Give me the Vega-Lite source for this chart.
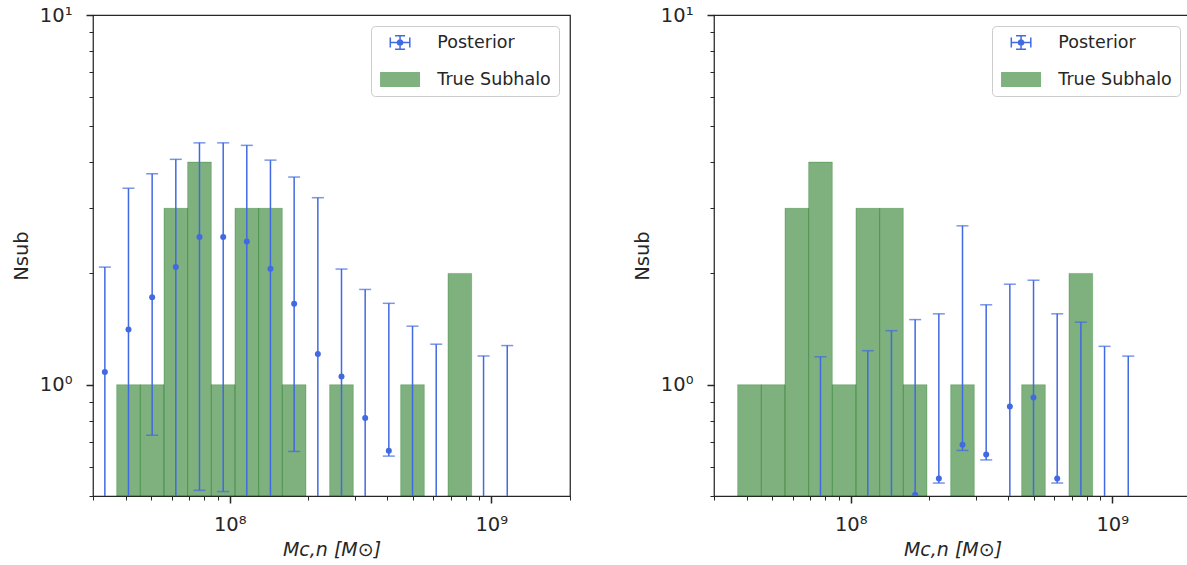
{
  "$schema": "https://vega.github.io/schema/vega-lite/v6.json",
  "padding": {"left": 10, "top": 4, "right": 0, "bottom": 0},
  "spacing": 59,
  "config": {
    "font": "DejaVu Sans",
    "view": {"stroke": "#262626", "strokeWidth": 1.25},
    "axis": {"grid": false, "domain": false, "labelColor": "#262626", "tickColor": "#262626", "titleColor": "#262626", "labelFontSize": 19.5, "titleFontSize": 19, "titleFontWeight": "normal", "labelOverlap": false, "labelFlush": false, "labelBound": false}
  },
  "resolve": {"scale": {"color": "independent", "shape": "independent"}, "legend": {"color": "independent", "shape": "independent"}},
  "datasets": {
    "truth": [
      {"lo": 3.695e7, "hi": 4.550e7, "count": 1},
      {"lo": 4.550e7, "hi": 5.605e7, "count": 1},
      {"lo": 5.605e7, "hi": 6.902e7, "count": 3},
      {"lo": 6.902e7, "hi": 8.502e7, "count": 4},
      {"lo": 8.502e7, "hi": 1.0471e8, "count": 1},
      {"lo": 1.0471e8, "hi": 1.2897e8, "count": 3},
      {"lo": 1.2897e8, "hi": 1.5885e8, "count": 3},
      {"lo": 1.5885e8, "hi": 1.9566e8, "count": 1},
      {"lo": 2.4099e8, "hi": 2.9682e8, "count": 1},
      {"lo": 4.5030e8, "hi": 5.5463e8, "count": 1},
      {"lo": 6.8313e8, "hi": 8.4140e8, "count": 2}
    ],
    "postL": [
      {"m": 3.33e7, "val": 1.083, "low": 0.3, "high": 2.08},
      {"m": 4.10e7, "val": 1.41, "low": 0.3, "high": 3.40},
      {"m": 5.05e7, "val": 1.725, "low": 0.73, "high": 3.72},
      {"m": 6.22e7, "val": 2.08, "low": 0.3, "high": 4.07},
      {"m": 7.66e7, "val": 2.51, "low": 0.518, "high": 4.51},
      {"m": 9.44e7, "val": 2.51, "low": 0.514, "high": 4.51},
      {"m": 1.162e8, "val": 2.44, "low": 0.3, "high": 4.44},
      {"m": 1.431e8, "val": 2.06, "low": 0.3, "high": 4.05},
      {"m": 1.763e8, "val": 1.655, "low": 0.66, "high": 3.645},
      {"m": 2.172e8, "val": 1.21, "low": 0.3, "high": 3.205},
      {"m": 2.675e8, "val": 1.053, "low": 0.3, "high": 2.055},
      {"m": 3.295e8, "val": 0.813, "low": 0.3, "high": 1.81},
      {"m": 4.058e8, "val": 0.663, "low": 0.641, "high": 1.66},
      {"m": 4.999e8, "val": null, "low": 0.3, "high": 1.44},
      {"m": 6.158e8, "val": null, "low": 0.3, "high": 1.287},
      {"m": 9.343e8, "val": null, "low": 0.3, "high": 1.196},
      {"m": 1.151e9, "val": null, "low": 0.3, "high": 1.276}
    ],
    "postR": [
      {"m": 7.66e7, "val": null, "low": 0.3, "high": 1.19},
      {"m": 1.162e8, "val": null, "low": 0.3, "high": 1.236},
      {"m": 1.431e8, "val": null, "low": 0.3, "high": 1.40},
      {"m": 1.763e8, "val": 0.504, "low": 0.3, "high": 1.50},
      {"m": 2.172e8, "val": 0.558, "low": 0.542, "high": 1.555},
      {"m": 2.675e8, "val": 0.688, "low": 0.664, "high": 2.69},
      {"m": 3.295e8, "val": 0.647, "low": 0.626, "high": 1.645},
      {"m": 4.058e8, "val": 0.873, "low": 0.3, "high": 1.87},
      {"m": 4.999e8, "val": 0.923, "low": 0.3, "high": 1.917},
      {"m": 6.158e8, "val": 0.558, "low": 0.542, "high": 1.555},
      {"m": 7.585e8, "val": null, "low": 0.3, "high": 1.476},
      {"m": 9.343e8, "val": null, "low": 0.3, "high": 1.27},
      {"m": 1.151e9, "val": null, "low": 0.3, "high": 1.195}
    ],
    "legendRows": [{"series": "Posterior"}, {"series": "True Subhalo"}]
  },
  "hconcat": [
    {
      "width": 477,
      "height": 481,
      "layer": [
        {
          "data": {"name": "truth"},
          "mark": {"type": "bar", "fill": "#006400", "fillOpacity": 0.5, "stroke": "#006400", "strokeOpacity": 0.25, "strokeWidth": 1},
          "encoding": {
            "x": {"field": "lo", "type": "quantitative", "title": "Mc,n [M⊙]", "scale": {"type": "log", "domain": [3e7, 2e9], "nice": false},
              "axis": {"title": "Mc,n [M⊙]", "titleFontStyle": "italic", "titleFontSize": 19, "labelFontSize": 19.5, "values": [3e7, 4e7, 5e7, 6e7, 7e7, 8e7, 9e7, 1e8, 2e8, 3e8, 4e8, 5e8, 6e8, 7e8, 8e8, 9e8, 1e9, 2e9],
                "labelExpr": "datum.value == 1e8 ? '10⁸' : datum.value == 1e9 ? '10⁹' : ''",
                "tickSize": {"condition": {"test": "datum.value == 1e8 || datum.value == 1e9", "value": 7}, "value": 4},
                "tickWidth": {"condition": {"test": "datum.value == 1e8 || datum.value == 1e9", "value": 1.5}, "value": 1},
                "labelPadding": 12, "titlePadding": 7}},
            "x2": {"field": "hi"},
            "y": {"field": "count", "type": "quantitative", "title": "Nsub", "scale": {"type": "log", "domain": [0.5, 10], "nice": false},
              "axis": {"title": "Nsub", "titleFontSize": 19.5, "labelFontSize": 19.5, "values": [0.5, 0.6, 0.7, 0.8, 0.9, 1, 2, 3, 4, 5, 6, 7, 8, 9, 10],
                "labelExpr": "datum.value == 1 ? '10⁰' : datum.value == 10 ? '10¹' : ''",
                "tickSize": {"condition": {"test": "datum.value == 1 || datum.value == 10", "value": 7}, "value": 4},
                "tickWidth": {"condition": {"test": "datum.value == 1 || datum.value == 10", "value": 1.5}, "value": 1},
                "labelPadding": 14, "titlePadding": 8}},
            "y2": {"datum": 0.5}
          }
        },
        {
          "data": {"name": "postL"},
          "mark": {"type": "errorbar", "clip": true, "ticks": {"size": 12, "thickness": 1.5, "color": "#4169e1"}, "rule": {"strokeWidth": 1.5, "color": "#4169e1"}},
          "encoding": {
            "x": {"field": "m", "type": "quantitative", "title": "Mc,n [M⊙]"},
            "y": {"field": "low", "type": "quantitative", "title": "Nsub"},
            "y2": {"field": "high"}
          }
        },
        {
          "data": {"name": "postL"},
          "mark": {"type": "point", "filled": true, "size": 36, "color": "#4169e1", "opacity": 1, "clip": true},
          "encoding": {
            "x": {"field": "m", "type": "quantitative", "title": "Mc,n [M⊙]"},
            "y": {"field": "val", "type": "quantitative", "title": "Nsub"}
          }
        },
        {
          "data": {"name": "legendRows"},
          "mark": {"type": "point", "filled": true, "opacity": 0},
          "encoding": {
            "color": {"field": "series", "type": "nominal", "scale": {"domain": ["Posterior", "True Subhalo"], "range": ["#4169e1", "#7fb27f"]},
              "legend": {"title": null, "orient": "top-right", "offset": 11, "padding": 7.8, "fillColor": "white", "strokeColor": "#cccccc", "cornerRadius": 4, "symbolSize": 225, "symbolOpacity": 1, "symbolStrokeWidth": 0, "labelFontSize": 17.5, "labelColor": "#262626", "labelOffset": 41, "rowPadding": 18, "labelFont": "DejaVu Sans"}},
            "shape": {"field": "series", "type": "nominal", "scale": {"domain": ["Posterior", "True Subhalo"], "range": ["M1.567,-1H1.767V1H1.567Z M0.267,-0.1H3.067V0.1H0.267Z M1,-1H2.333V-0.8H1Z M1,0.8H2.333V1H1Z M0.267,-0.667H0.467V0.667H0.267Z M2.867,-0.667H3.067V0.667H2.867Z M1.217,0A0.45,0.45 0 1,1 2.117,0A0.45,0.45 0 1,1 1.217,0Z", "M-1,-1H4.333V1H-1Z"]},
              "legend": {"title": null, "orient": "top-right", "offset": 11, "padding": 7.8, "fillColor": "white", "strokeColor": "#cccccc", "cornerRadius": 4, "symbolSize": 225, "symbolOpacity": 1, "symbolStrokeWidth": 0, "labelFontSize": 17.5, "labelColor": "#262626", "labelOffset": 41, "rowPadding": 18, "labelFont": "DejaVu Sans"}}
          }
        }
      ]
    },
    {
      "width": 477,
      "height": 481,
      "layer": [
        {
          "data": {"name": "truth"},
          "mark": {"type": "bar", "fill": "#006400", "fillOpacity": 0.5, "stroke": "#006400", "strokeOpacity": 0.25, "strokeWidth": 1},
          "encoding": {
            "x": {"field": "lo", "type": "quantitative", "title": "Mc,n [M⊙]", "scale": {"type": "log", "domain": [3e7, 2e9], "nice": false},
              "axis": {"title": "Mc,n [M⊙]", "titleFontStyle": "italic", "titleFontSize": 19, "labelFontSize": 19.5, "values": [3e7, 4e7, 5e7, 6e7, 7e7, 8e7, 9e7, 1e8, 2e8, 3e8, 4e8, 5e8, 6e8, 7e8, 8e8, 9e8, 1e9, 2e9],
                "labelExpr": "datum.value == 1e8 ? '10⁸' : datum.value == 1e9 ? '10⁹' : ''",
                "tickSize": {"condition": {"test": "datum.value == 1e8 || datum.value == 1e9", "value": 7}, "value": 4},
                "tickWidth": {"condition": {"test": "datum.value == 1e8 || datum.value == 1e9", "value": 1.5}, "value": 1},
                "labelPadding": 12, "titlePadding": 7}},
            "x2": {"field": "hi"},
            "y": {"field": "count", "type": "quantitative", "title": "Nsub", "scale": {"type": "log", "domain": [0.5, 10], "nice": false},
              "axis": {"title": "Nsub", "titleFontSize": 19.5, "labelFontSize": 19.5, "values": [0.5, 0.6, 0.7, 0.8, 0.9, 1, 2, 3, 4, 5, 6, 7, 8, 9, 10],
                "labelExpr": "datum.value == 1 ? '10⁰' : datum.value == 10 ? '10¹' : ''",
                "tickSize": {"condition": {"test": "datum.value == 1 || datum.value == 10", "value": 7}, "value": 4},
                "tickWidth": {"condition": {"test": "datum.value == 1 || datum.value == 10", "value": 1.5}, "value": 1},
                "labelPadding": 14, "titlePadding": 8}},
            "y2": {"datum": 0.5}
          }
        },
        {
          "data": {"name": "postR"},
          "mark": {"type": "errorbar", "clip": true, "ticks": {"size": 12, "thickness": 1.5, "color": "#4169e1"}, "rule": {"strokeWidth": 1.5, "color": "#4169e1"}},
          "encoding": {
            "x": {"field": "m", "type": "quantitative", "title": "Mc,n [M⊙]"},
            "y": {"field": "low", "type": "quantitative", "title": "Nsub"},
            "y2": {"field": "high"}
          }
        },
        {
          "data": {"name": "postR"},
          "mark": {"type": "point", "filled": true, "size": 36, "color": "#4169e1", "opacity": 1, "clip": true},
          "encoding": {
            "x": {"field": "m", "type": "quantitative", "title": "Mc,n [M⊙]"},
            "y": {"field": "val", "type": "quantitative", "title": "Nsub"}
          }
        },
        {
          "data": {"name": "legendRows"},
          "mark": {"type": "point", "filled": true, "opacity": 0},
          "encoding": {
            "color": {"field": "series", "type": "nominal", "scale": {"domain": ["Posterior", "True Subhalo"], "range": ["#4169e1", "#7fb27f"]},
              "legend": {"title": null, "orient": "top-right", "offset": 11, "padding": 7.8, "fillColor": "white", "strokeColor": "#cccccc", "cornerRadius": 4, "symbolSize": 225, "symbolOpacity": 1, "symbolStrokeWidth": 0, "labelFontSize": 17.5, "labelColor": "#262626", "labelOffset": 41, "rowPadding": 18, "labelFont": "DejaVu Sans"}},
            "shape": {"field": "series", "type": "nominal", "scale": {"domain": ["Posterior", "True Subhalo"], "range": ["M1.567,-1H1.767V1H1.567Z M0.267,-0.1H3.067V0.1H0.267Z M1,-1H2.333V-0.8H1Z M1,0.8H2.333V1H1Z M0.267,-0.667H0.467V0.667H0.267Z M2.867,-0.667H3.067V0.667H2.867Z M1.217,0A0.45,0.45 0 1,1 2.117,0A0.45,0.45 0 1,1 1.217,0Z", "M-1,-1H4.333V1H-1Z"]},
              "legend": {"title": null, "orient": "top-right", "offset": 11, "padding": 7.8, "fillColor": "white", "strokeColor": "#cccccc", "cornerRadius": 4, "symbolSize": 225, "symbolOpacity": 1, "symbolStrokeWidth": 0, "labelFontSize": 17.5, "labelColor": "#262626", "labelOffset": 41, "rowPadding": 18, "labelFont": "DejaVu Sans"}}
          }
        }
      ]
    }
  ]
}
